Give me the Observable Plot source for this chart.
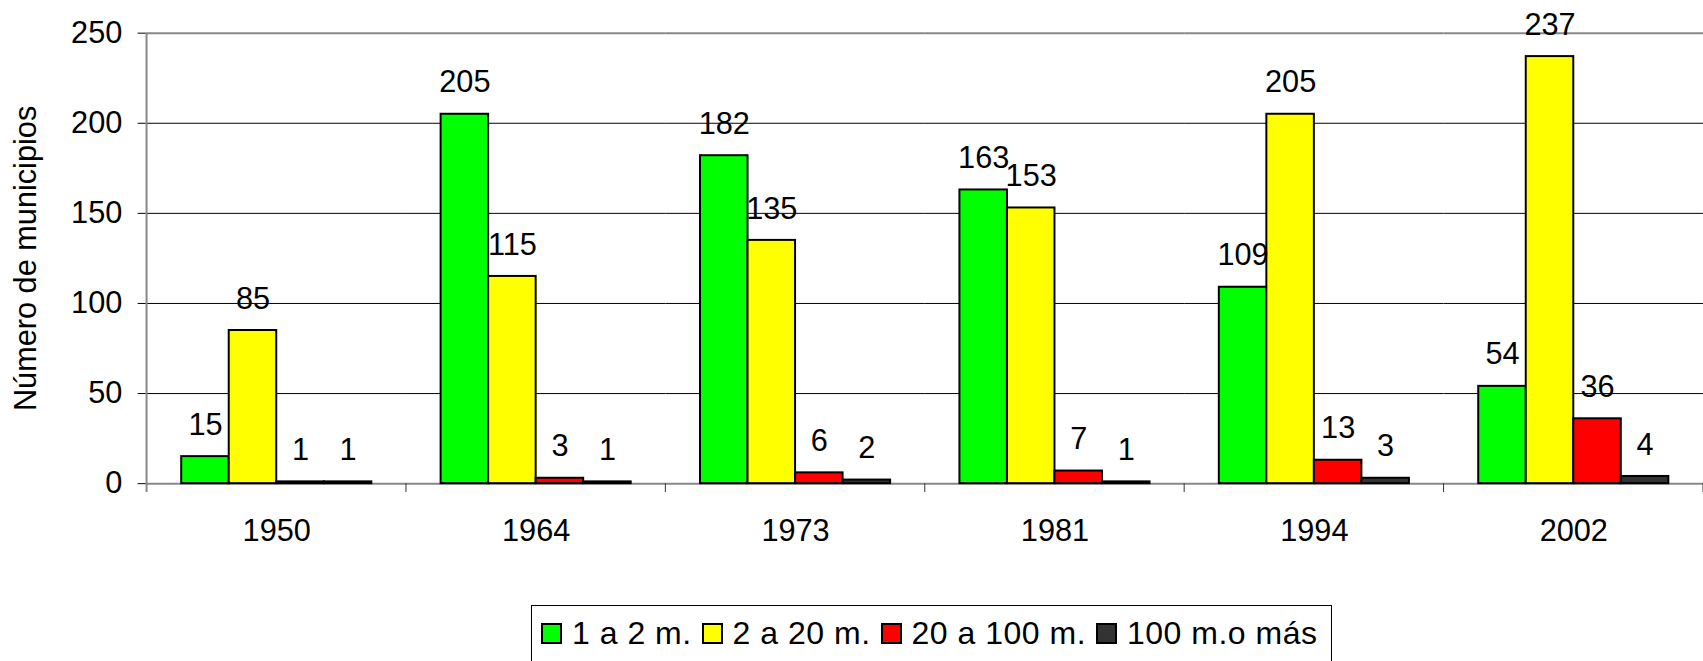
<!DOCTYPE html>
<html><head><meta charset="utf-8">
<script src="https://cdn.jsdelivr.net/npm/d3@7"></script>
<script src="https://cdn.jsdelivr.net/npm/@observablehq/plot@0.6"></script>
<style>
html,body{margin:0;padding:0;background:#fff;overflow:hidden;width:1703px;height:661px;}
#chart{position:absolute;left:0;top:0;}
#legend{position:absolute;left:531px;top:605px;width:801px;height:80px;border:1px solid #000;box-sizing:border-box;
  font-family:"Liberation Sans",Arial,sans-serif;font-size:32px;letter-spacing:0.5px;color:#000;display:flex;padding:11px 0 0 9px;white-space:nowrap;}
#legend .item{display:flex;align-items:center;margin-right:10px;line-height:32px;height:32px;}
#legend .sw{width:21px;height:21px;box-sizing:border-box;border:2px solid #000;margin-right:10px;flex:none;}
</style>
</head><body>
<div id="chart"></div>
<div id="legend"></div>
<script>
const years = ["1950", "1964", "1973", "1981", "1994", "2002"];
const series = ["1 a 2 m.", "2 a 20 m.", "20 a 100 m.", "100 m.o más"];
const colors = ["#00ff00", "#ffff00", "#ff0000", "#333333"];
const vals1a2 = [15, 205, 182, 163, 109, 54];
const vals2a20 = [85, 115, 135, 153, 205, 237];
const vals20a100 = [1, 3, 6, 7, 13, 36];
const vals100 = [1, 1, 2, 1, 3, 4];
const yTicks = [0, 50, 100, 150, 200, 250];
const gridTicks = [50, 100, 150, 200];
const yLabel = "Número de municipios";

const seriesValues = [vals1a2, vals2a20, vals20a100, vals100];
const data = [];
years.forEach((yr, i) => series.forEach((s, j) => data.push({year: yr, series: s, value: seriesValues[j][i]})));

const font = '"Liberation Sans", Arial, sans-serif';
const plot = Plot.plot({
  width: 1720,
  height: 604,
  marginLeft: 148,
  marginRight: 0,
  marginTop: 33,
  marginBottom: 116,
  style: {fontFamily: font, fontSize: "31px", color: "#000", background: "transparent"},
  fx: {domain: years, padding: 0, axis: "bottom", tickSize: 0, tickPadding: 36, label: null},
  x: {domain: series, paddingInner: 0, paddingOuter: 0.72, axis: null},
  y: {domain: [0, 250], ticks: yTicks, tickSize: 9, tickPadding: 16, label: yLabel, labelArrow: "none", labelAnchor: "center", labelOffset: 134},
  color: {domain: series, range: colors},
  marks: [
    Plot.ruleY(gridTicks, {stroke: "#000", strokeWidth: 1}),
    Plot.ruleY([250], {stroke: "#888", strokeWidth: 2}),
    Plot.ruleY([0], {stroke: "#888", strokeWidth: 2}),
    Plot.barY(data, {fx: "year", x: "series", y: "value", fill: "series", stroke: "#000", strokeWidth: 2}),
    Plot.text(data, {fx: "year", x: "series", y: "value", text: d => String(d.value), dy: -32, fill: "#000", fontSize: 31})
  ]
});
document.getElementById("chart").appendChild(plot);

const svg = d3.select(plot);
// strip any arrow from the axis label (older Plot versions)
svg.selectAll("text").each(function() {
  const t = this.textContent;
  if (t.indexOf("Número") >= 0 && /[↑→←↓]/.test(t)) this.textContent = t.replace(/\s*[↑→←↓]\s*/g, "");
});

// axis line and category boundary ticks from the library's scales
const ys = plot.scale("y");
const y0 = ys.apply(0), yTop = ys.apply(250);
const fxs = plot.scale("fx");
const bounds = years.map(yr => fxs.apply(yr));
const bw = fxs.bandwidth !== undefined ? fxs.bandwidth : (bounds[1] - bounds[0]);
bounds.push(bounds[bounds.length - 1] + bw);
const g = svg.append("g");
g.append("line").attr("x1", bounds[0]).attr("x2", bounds[0]).attr("y1", yTop).attr("y2", y0 + 9)
  .attr("stroke", "#888").attr("stroke-width", 2);
bounds.slice(1).forEach(b => g.append("line").attr("x1", b).attr("x2", b).attr("y1", y0).attr("y2", y0 + 9)
  .attr("stroke", "#333").attr("stroke-width", 1));

// legend
const lg = document.getElementById("legend");
series.forEach((s, i) => {
  const it = document.createElement("div"); it.className = "item";
  const sw = document.createElement("div"); sw.className = "sw"; sw.style.background = colors[i];
  const t = document.createElement("span"); t.textContent = s;
  it.appendChild(sw); it.appendChild(t); lg.appendChild(it);
});
</script>
</body></html>
